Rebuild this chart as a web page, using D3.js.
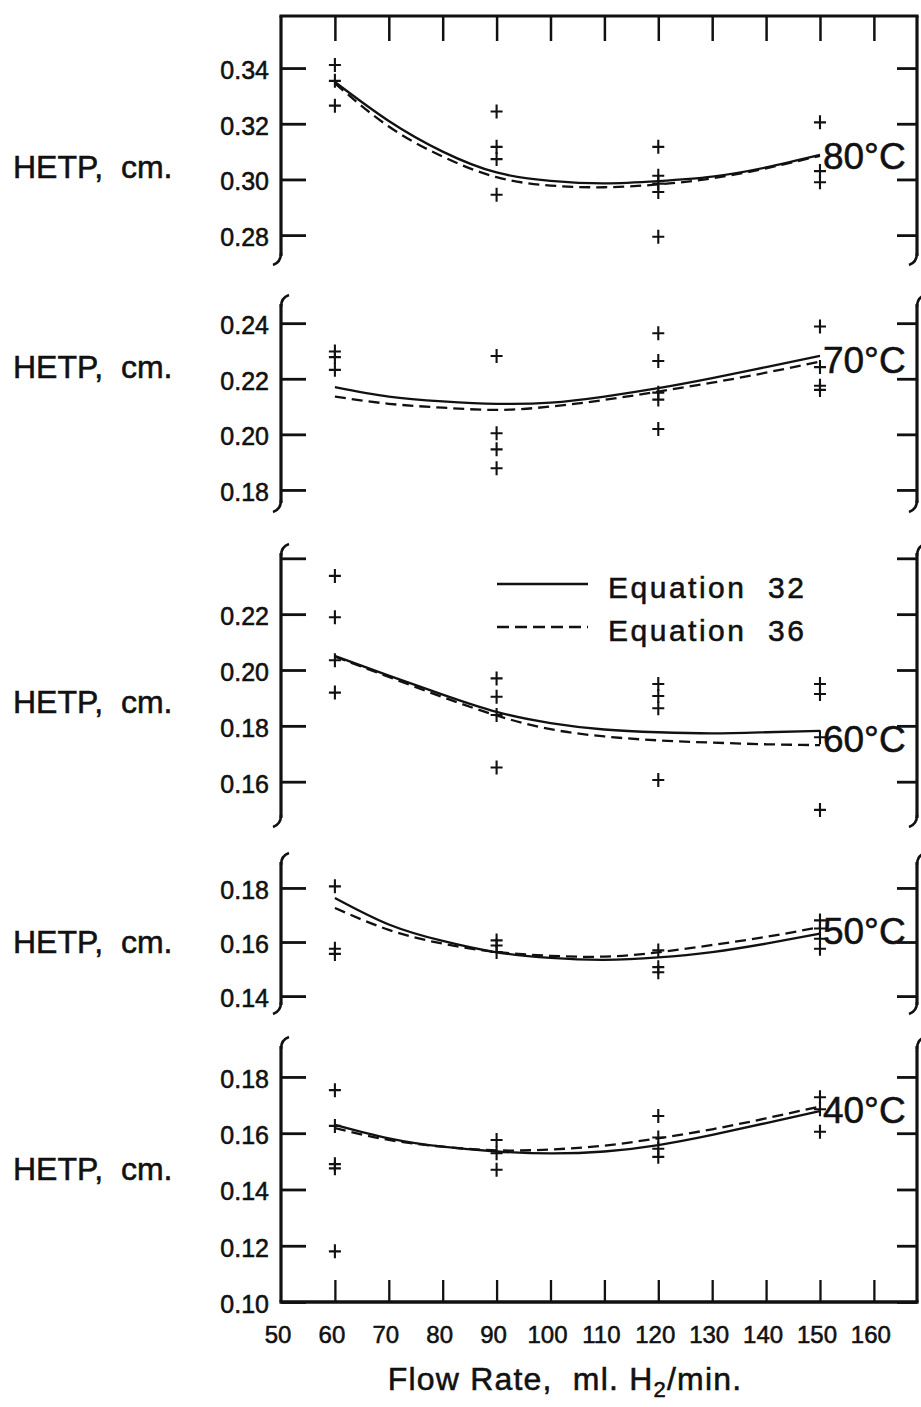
<!DOCTYPE html>
<html>
<head>
<meta charset="utf-8">
<script src="https://cdn.jsdelivr.net/npm/d3@7"></script>
<style>
  html, body { margin: 0; padding: 0; background: #fff; }
  svg { display: block; }
  text { font-family: "Liberation Sans", Arial, sans-serif; fill: #111; stroke: #111; stroke-width: 0.55px; white-space: pre; }
</style>
</head>
<body>
<svg id="chart" width="921" height="1407"></svg>
<script>
// ---------------- data ----------------
const flowTicks = [60, 70, 80, 90, 100, 110, 120, 130, 140, 150, 160];
const flowTickLabels = [50, 60, 70, 80, 90, 100, 110, 120, 130, 140, 150, 160];
const curveFlows = [60, 70, 80, 90, 100, 110, 120, 130, 140, 150];
const temperatures = ["80°C", "70°C", "60°C", "50°C", "40°C"];
const legendLabels = ["Equation  32", "Equation  36"];
const yAxisLabel = "HETP,  cm.";

const eq32_80 = [0.3350, 0.3210, 0.3100, 0.3025, 0.2995, 0.2986, 0.2994, 0.3010, 0.3043, 0.3088];
const eq36_80 = [0.3345, 0.3190, 0.3082, 0.3008, 0.2978, 0.2972, 0.2982, 0.3004, 0.3040, 0.3085];
const obs80 = [[60,0.3411],[60,0.3354],[60,0.3265],[90,0.3244],[90,0.3117],[90,0.3073],[90,0.2945],
               [120,0.3117],[120,0.3013],[120,0.2985],[120,0.2955],[120,0.2794],[150,0.3205],[150,0.3030],[150,0.2990]];

const eq32_70 = [0.2170, 0.2136, 0.2119, 0.2110, 0.2114, 0.2136, 0.2166, 0.2202, 0.2242, 0.2282];
const eq36_70 = [0.2136, 0.2110, 0.2096, 0.2088, 0.2100, 0.2124, 0.2154, 0.2186, 0.2222, 0.2262];
const obs70 = [[60,0.2298],[60,0.2278],[60,0.2232],[90,0.2282],[90,0.2004],[90,0.1946],[90,0.1878],
               [120,0.2364],[120,0.2264],[120,0.2150],[120,0.2125],[120,0.2019],[150,0.2388],[150,0.2242],[150,0.2175],[150,0.2160]];

const eq32_60 = [0.2050, 0.1980, 0.1912, 0.1850, 0.1810, 0.1787, 0.1777, 0.1773, 0.1777, 0.1782];
const eq36_60 = [0.2048, 0.1975, 0.1903, 0.1837, 0.1788, 0.1762, 0.1748, 0.1740, 0.1734, 0.1731];
const obs60 = [[60,0.2337],[60,0.2189],[60,0.2035],[60,0.1919],[90,0.1970],[90,0.1904],[90,0.1839],[90,0.1651],
               [120,0.1950],[120,0.1907],[120,0.1863],[120,0.1606],[150,0.1950],[150,0.1914],[150,0.1759],[150,0.1499]];

const eq32_50 = [0.1763, 0.1665, 0.1604, 0.1562, 0.1541, 0.1534, 0.1543, 0.1563, 0.1594, 0.1631];
const eq36_50 = [0.1726, 0.1645, 0.1594, 0.1563, 0.1549, 0.1546, 0.1562, 0.1589, 0.1619, 0.1655];
const obs50 = [[60,0.1806],[60,0.1575],[60,0.1556],[90,0.1606],[90,0.1587],[90,0.1563],
               [120,0.1569],[120,0.1507],[120,0.1488],[150,0.1680],[150,0.1650],[150,0.1612],[150,0.1575]];

const eq32_40 = [0.1630, 0.1582, 0.1552, 0.1535, 0.1528, 0.1535, 0.1558, 0.1594, 0.1636, 0.1679];
const eq36_40 = [0.1618, 0.1576, 0.1552, 0.1539, 0.1542, 0.1556, 0.1582, 0.1614, 0.1653, 0.1695];
const obs40 = [[60,0.1753],[60,0.1626],[60,0.1490],[60,0.1475],[60,0.1180],[90,0.1576],[90,0.1529],[90,0.1470],
               [120,0.1661],[120,0.1585],[120,0.1545],[120,0.1516],[150,0.1728],[150,0.1685],[150,0.1605]];

const yTicks80 = [0.28, 0.30, 0.32, 0.34];
const yTicks70 = [0.18, 0.20, 0.22, 0.24];
const yTicks60 = [0.16, 0.18, 0.20, 0.22, 0.24];
const yTickLabels60 = [0.16, 0.18, 0.20, 0.22];
const yTicks50 = [0.14, 0.16, 0.18];
const yTicks40 = [0.10, 0.12, 0.14, 0.16, 0.18];

// ---------------- layout ----------------
const X0 = 281, X1 = 917;
const panels = [
  { temp: temperatures[0], eq32: eq32_80, eq36: eq36_80, obs: obs80, ticks: yTicks80, labels: yTicks80,
    dom: [0.2725, 0.3587], rng: [256, 16], hetpY: 178, top: "frame", bottom: "break" },
  { temp: temperatures[1], eq32: eq32_70, eq36: eq36_70, obs: obs70, ticks: yTicks70, labels: yTicks70,
    dom: [0.1753, 0.2469], rng: [503, 304], hetpY: 378, top: "break", bottom: "break" },
  { temp: temperatures[2], eq32: eq32_60, eq36: eq36_60, obs: obs60, ticks: yTicks60, labels: yTickLabels60,
    dom: [0.1470, 0.2419], rng: [818, 553], hetpY: 713, top: "break", bottom: "break" },
  { temp: temperatures[3], eq32: eq32_50, eq36: eq36_50, obs: obs50, ticks: yTicks50, labels: yTicks50,
    dom: [0.1367, 0.1896], rng: [1005, 862], hetpY: 953, top: "break", bottom: "break" },
  { temp: temperatures[4], eq32: eq32_40, eq36: eq36_40, obs: obs40, ticks: yTicks40, labels: yTicks40,
    dom: [0.1000, 0.1910], rng: [1302, 1046], hetpY: 1180, top: "break", bottom: "axis" }
];

const svg = d3.select("#chart");
svg.append("rect").attr("width", 921).attr("height", 1407).attr("fill", "#fff");

const x = d3.scaleLinear().domain([50, 168]).range([X0, X1]);
const ink = "#111";

function breakTop(xp, yp) {
  return `M${xp},${yp + 3} C${xp},${yp - 3} ${xp + 2},${yp - 7} ${xp + 8},${yp - 9}`;
}
function breakBottom(xp, yp) {
  return `M${xp},${yp - 3} C${xp},${yp + 3} ${xp - 2},${yp + 7} ${xp - 8},${yp + 9}`;
}

panels.forEach(p => {
  const y = d3.scaleLinear().domain(p.dom).range(p.rng);
  const g = svg.append("g");
  const yTop = p.rng[1], yBot = p.rng[0];

  // vertical frame lines
  [X0, X1].forEach(xp => {
    g.append("line").attr("x1", xp).attr("x2", xp).attr("y1", yTop).attr("y2", yBot)
      .attr("stroke", ink).attr("stroke-width", 3.2);
    if (p.top === "break") g.append("path").attr("d", breakTop(xp, yTop)).attr("fill", "none").attr("stroke", ink).attr("stroke-width", 2.6);
    if (p.bottom === "break") g.append("path").attr("d", breakBottom(xp, yBot)).attr("fill", "none").attr("stroke", ink).attr("stroke-width", 2.6);
  });

  // left axis ticks (inward) with labels
  const leftAxis = d3.axisRight(y).tickValues(p.ticks).tickSize(25).tickFormat("");
  const la = g.append("g").attr("transform", `translate(${X0},0)`).call(leftAxis);
  la.select(".domain").remove();
  la.selectAll(".tick line").attr("stroke", ink).attr("stroke-width", 2.8);

  g.selectAll("text.ylab").data(p.labels).enter().append("text")
    .attr("class", "ylab")
    .attr("x", 269).attr("y", d => y(d) + 2)
    .attr("text-anchor", "end").attr("dominant-baseline", "central")
    .attr("font-size", 25)
    .text(d => d3.format(".2f")(d));

  // right axis ticks (inward)
  const rightAxis = d3.axisLeft(y).tickValues(p.ticks).tickSize(20).tickFormat("");
  const ra = g.append("g").attr("transform", `translate(${X1},0)`).call(rightAxis);
  ra.select(".domain").remove();
  ra.selectAll(".tick line").attr("stroke", ink).attr("stroke-width", 2.8);

  // HETP label
  g.append("text").attr("x", 13).attr("y", p.hetpY).attr("font-size", 32).text(yAxisLabel);

  // curves
  const line = d3.line().x((d, i) => x(curveFlows[i])).y(d => y(d)).curve(d3.curveNatural);
  g.append("path").attr("d", line(p.eq32)).attr("fill", "none").attr("stroke", ink).attr("stroke-width", 2.3);
  g.append("path").attr("d", line(p.eq36)).attr("fill", "none").attr("stroke", ink).attr("stroke-width", 2.3)
    .attr("stroke-dasharray", "11,6");

  // observations
  g.selectAll("path.obs").data(p.obs).enter().append("path")
    .attr("class", "obs")
    .attr("d", d => `M${x(d[0]) - 6},${y(d[1])}H${x(d[0]) + 6}M${x(d[0])},${y(d[1]) - 7}V${y(d[1]) + 7}`)
    .attr("stroke", ink).attr("stroke-width", 2.1).attr("fill", "none");

  // temperature label at curve end
  const last = curveFlows.length - 1;
  const yEnd = (y(p.eq32[last]) + y(p.eq36[last])) / 2;
  g.append("text").attr("x", x(curveFlows[last]) + 3).attr("y", yEnd + 14)
    .attr("font-size", 37).text(p.temp);

  // top frame
  if (p.top === "frame") {
    g.append("line").attr("x1", X0 - 1.6).attr("x2", X1 + 1.6).attr("y1", yTop).attr("y2", yTop)
      .attr("stroke", ink).attr("stroke-width", 3.2);
    const topAxis = d3.axisBottom(x).tickValues(flowTicks).tickSize(25).tickFormat("");
    const ta = g.append("g").attr("transform", `translate(0,${yTop})`).call(topAxis);
    ta.select(".domain").remove();
    ta.selectAll(".tick line").attr("stroke", ink).attr("stroke-width", 2.5);
  }

  // bottom axis
  if (p.bottom === "axis") {
    g.append("line").attr("x1", X0 - 1.6).attr("x2", X1 + 1.6).attr("y1", yBot).attr("y2", yBot)
      .attr("stroke", ink).attr("stroke-width", 3.6);
    const botAxis = d3.axisTop(x).tickValues(flowTicks).tickSize(22).tickFormat("");
    const ba = g.append("g").attr("transform", `translate(0,${yBot})`).call(botAxis);
    ba.select(".domain").remove();
    ba.selectAll(".tick line").attr("stroke", ink).attr("stroke-width", 2.3);

    svg.selectAll("text.xlab").data(flowTickLabels).enter().append("text")
      .attr("class", "xlab")
      .attr("x", d => x(d) - 3).attr("y", yBot + 32)
      .attr("text-anchor", "middle").attr("dominant-baseline", "central")
      .attr("font-size", 24)
      .text(d => d);

    const title = svg.append("text").attr("x", 565).attr("y", 1390)
      .attr("text-anchor", "middle").attr("font-size", 32).attr("letter-spacing", 1.2);
    title.append("tspan").text("Flow Rate,  ml. H");
    title.append("tspan").attr("font-size", 22).attr("dy", 7).text("2");
    title.append("tspan").attr("dy", -7).text("/min.");
  }
});

// legend
const legend = svg.append("g");
const legendRows = [
  { label: legendLabels[0], y: 584, dash: null },
  { label: legendLabels[1], y: 627, dash: "12,6" }
];
legendRows.forEach(r => {
  legend.append("line").attr("x1", 497).attr("x2", 588).attr("y1", r.y).attr("y2", r.y)
    .attr("stroke", ink).attr("stroke-width", 2.5).attr("stroke-dasharray", r.dash);
  legend.append("text").attr("x", 608).attr("y", r.y + 3).attr("dominant-baseline", "central")
    .attr("font-size", 30).attr("letter-spacing", 2.5).text(r.label);
});
</script>
</body>
</html>
